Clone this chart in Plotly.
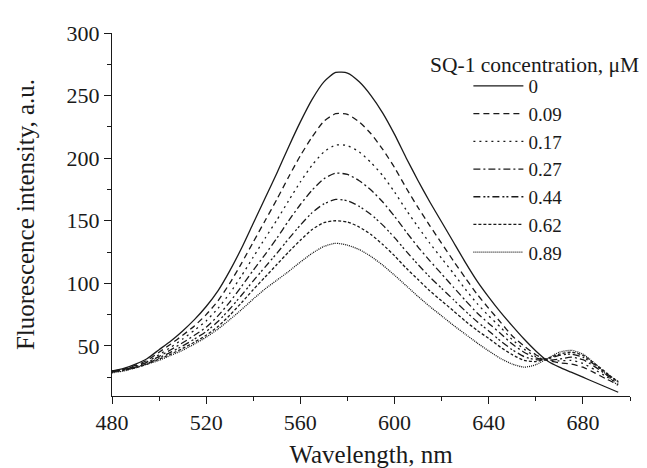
import plotly.graph_objects as go

wavelength = [480, 485, 490, 495, 500, 505, 510, 515, 520, 525, 530, 535, 540, 545,
              550, 555, 560, 565, 570, 575, 580, 585, 590, 595, 600, 605, 610, 615,
              620, 625, 630, 635, 640, 645, 650, 655, 660, 665, 670, 675, 680, 685,
              690, 695]

conc_labels = ["0", "0.09", "0.17", "0.27", "0.44", "0.62", "0.89"]

c_0 = [30, 32, 35.5, 40, 47, 54, 62, 71, 81.5, 94, 110, 128, 148, 168,
       188, 209, 229, 247, 261, 268.5, 268, 261, 250, 236, 219, 200, 182, 165,
       149, 133, 117, 102, 89, 77, 66, 55.5, 46, 38, 33, 29, 25, 21,
       17, 13]
c_009 = [30, 31.5, 34.5, 38.5, 45, 51.5, 58.5, 66, 75, 86, 100, 116, 133, 150,
         167, 185, 202, 217, 229.5, 235.5, 235, 229, 219.5, 207, 192.5, 176, 160.5, 146,
         132, 118, 104.5, 91.5, 80, 69, 58, 50, 43, 38.5, 36.5, 35.5, 33, 28.5,
         23.5, 19]
c_017 = [29.5, 31, 34, 37.5, 43, 49, 55.5, 62.5, 70, 80, 92, 106, 121, 136,
         150.5, 166, 181, 194.5, 205, 210.5, 210, 205, 196.5, 186, 173, 158.5, 145, 132,
         120, 108, 95.5, 84, 74, 65, 55, 47.5, 41.5, 38.5, 38, 38.5, 36, 31,
         25.5, 20]
c_027 = [29.5, 31, 33.5, 37, 41.5, 47, 52.5, 58.5, 65, 74, 85, 97.5, 110.5, 123,
         136, 150, 163, 174.5, 183.5, 188, 187, 182, 174.5, 165, 153.5, 141, 129, 118,
         107.5, 97, 86.5, 76.5, 68, 60, 51.5, 45, 40.5, 38.5, 39.5, 41, 39, 33.5,
         27, 21]
c_044 = [29.5, 30.5, 33, 36, 40.5, 45, 50, 55.5, 61.5, 69.5, 79.5, 90.5, 102, 113,
         124, 135.5, 146.5, 156.5, 163.5, 167, 166, 161.5, 155, 146.5, 136.5, 125.5, 115, 105,
         96, 87, 78, 69.5, 62, 54, 47, 41.5, 39, 39.5, 42.5, 43.5, 41, 35,
         28, 21.5]
c_062 = [29, 30.5, 32.5, 35.5, 39.5, 43.5, 48, 53, 58.5, 65.5, 74.5, 84.5, 95, 105,
         115, 125, 134.5, 143, 148.5, 150, 149, 145, 139, 131, 122, 112, 103, 94,
         86, 78, 70, 62.5, 56, 49, 43, 38.5, 37.5, 40, 43.5, 45, 42.5, 36,
         28.5, 21]
c_089 = [28.5, 30, 32.5, 35.5, 38.5, 42.5, 46.5, 51.5, 57, 63.5, 71, 79, 87.5, 95.5,
         102.5, 109.5, 117, 124, 129.5, 132, 130.5, 127, 121.5, 114.5, 106.5, 98, 89.5, 81.5,
         74, 66.5, 59.5, 52.5, 46, 40, 35.5, 33, 35, 40, 45, 46.5, 43.5, 36,
         27, 18]

series = [c_0, c_009, c_017, c_027, c_044, c_062, c_089]
dashes = ["solid", "6px,4px", "2px,4px", "7px,3px,2px,3px",
          "7px,3px,2px,2px,2px,3px", "3px,2px", "1px,1px"]

x_ticks = [480, 520, 560, 600, 640, 680]
y_ticks = [50, 100, 150, 200, 250, 300]

FONT = "Liberation Serif"
INK = "#1a1a1a"

fig = go.Figure()
for lab, vals, dsh in zip(conc_labels, series, dashes):
    fig.add_trace(go.Scatter(
        x=wavelength, y=vals, mode="lines", name=lab,
        line=dict(color=INK, width=1.3, dash=dsh, shape="spline", smoothing=0.6),
    ))

fig.update_layout(
    width=647, height=468,
    margin=dict(l=104, r=25, t=25, b=71),
    paper_bgcolor="white", plot_bgcolor="white",
    font=dict(family=FONT, size=22, color=INK),
    showlegend=True,
    legend=dict(
        x=0.688, y=0.906, xanchor="left", yanchor="top",
        bgcolor="rgba(0,0,0,0)", borderwidth=0,
        font=dict(family=FONT, size=19, color=INK),
        itemwidth=50, tracegroupgap=0,
    ),
)

fig.update_xaxes(
    range=[480, 700], tickvals=x_ticks, ticktext=[str(v) for v in x_ticks],
    showline=True, linecolor=INK, linewidth=1, mirror=False,
    ticks="outside", ticklen=7, tickwidth=1, tickcolor=INK,
    minor=dict(dtick=20, tick0=480, ticks="outside", ticklen=4, tickcolor=INK, tickwidth=1),
    showgrid=False, zeroline=False,
    tickfont=dict(family=FONT, size=22, color=INK),
    title=dict(text="Wavelength, nm", font=dict(family=FONT, size=25, color=INK), standoff=11),
)
fig.update_yaxes(
    range=[10, 300], tickvals=y_ticks, ticktext=[str(v) for v in y_ticks],
    showline=True, linecolor=INK, linewidth=1, mirror=False,
    ticks="outside", ticklen=7, tickwidth=1, tickcolor=INK,
    minor=dict(dtick=25, tick0=0, ticks="outside", ticklen=4, tickcolor=INK, tickwidth=1),
    showgrid=False, zeroline=False,
    tickfont=dict(family=FONT, size=22, color=INK),
    title=dict(text="Fluorescence intensity, a.u.", font=dict(family=FONT, size=25, color=INK), standoff=24),
)

fig.add_annotation(
    text="SQ-1 concentration, \u03bcM", xref="paper", yref="paper",
    x=(420 - 104) / 518, y=(397 - 58) / 372, xanchor="left", yanchor="middle",
    showarrow=False, font=dict(family=FONT, size=21.5, color=INK),
)

fig.write_html("out.html")
